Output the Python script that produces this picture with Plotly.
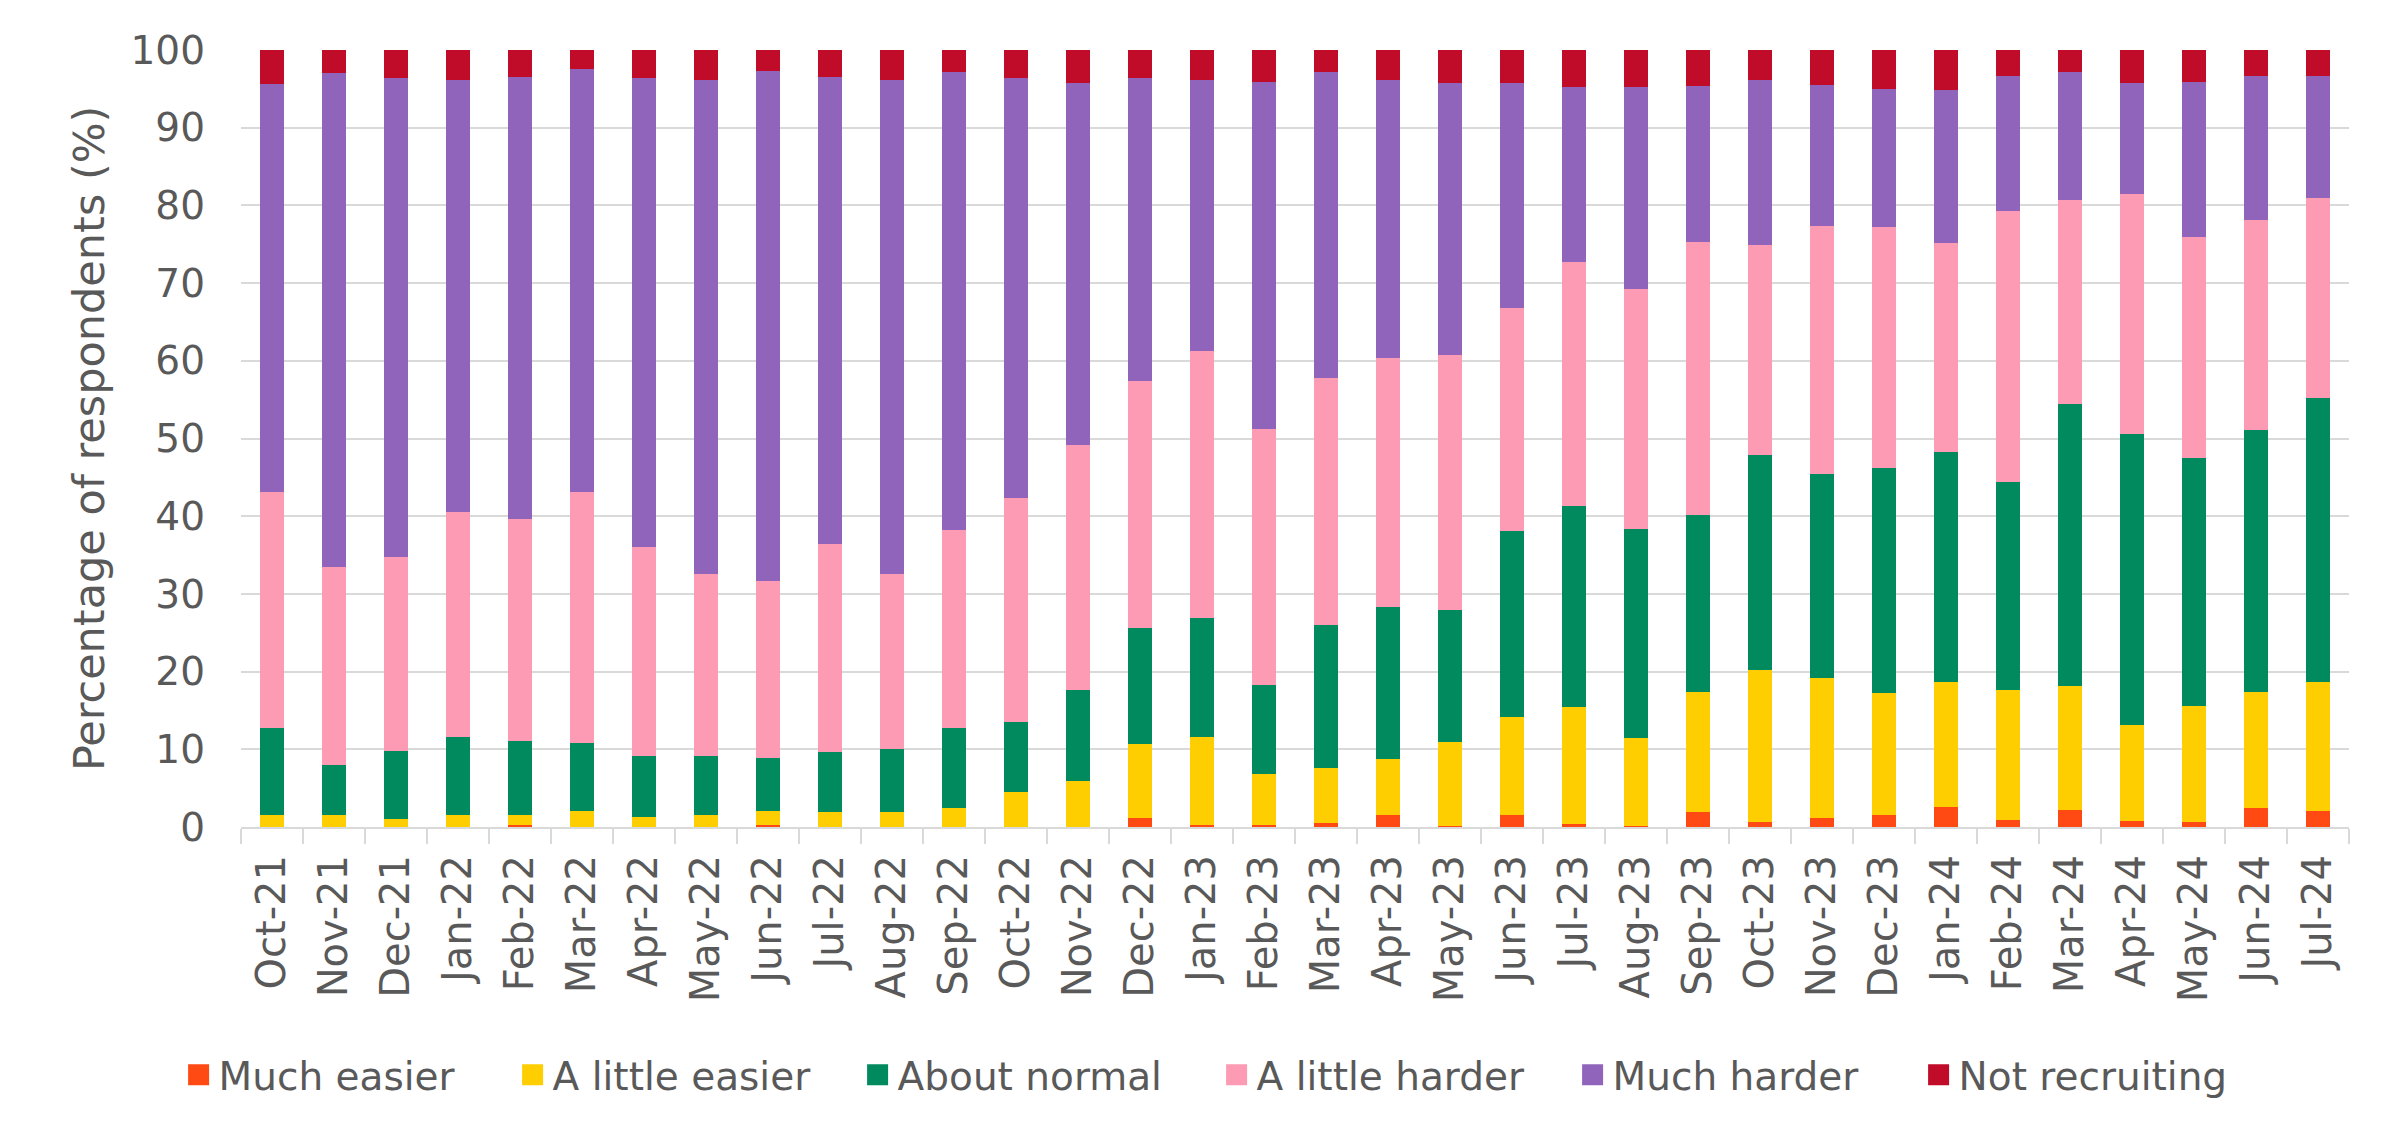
import plotly.graph_objects as go

months = ["Oct-21", "Nov-21", "Dec-21", "Jan-22", "Feb-22", "Mar-22", "Apr-22", "May-22",
          "Jun-22", "Jul-22", "Aug-22", "Sep-22", "Oct-22", "Nov-22", "Dec-22", "Jan-23",
          "Feb-23", "Mar-23", "Apr-23", "May-23", "Jun-23", "Jul-23", "Aug-23", "Sep-23",
          "Oct-23", "Nov-23", "Dec-23", "Jan-24", "Feb-24", "Mar-24", "Apr-24", "May-24",
          "Jun-24", "Jul-24"]

much_easier = [0.0, 0.0, 0.0, 0.0, 0.2, 0.0, 0.0, 0.0, 0.2, 0.0, 0.0, 0.0, 0.0, 0.0,
               1.1, 0.3, 0.3, 0.5, 1.6, 0.1, 1.5, 0.4, 0.1, 1.9, 0.7, 1.2, 1.6, 2.6,
               0.9, 2.2, 0.8, 0.7, 2.4, 2.1]
little_easier = [1.5, 1.6, 1.0, 1.5, 1.3, 2.0, 1.3, 1.5, 1.9, 1.9, 1.9, 2.5, 4.5, 5.9,
                 9.6, 11.3, 6.5, 7.1, 7.1, 10.9, 12.7, 15.1, 11.4, 15.5, 19.5, 18.0, 15.6, 16.0,
                 16.7, 15.9, 12.3, 14.9, 15.0, 16.6]
about_normal = [11.2, 6.4, 8.8, 10.1, 9.6, 8.8, 7.9, 7.7, 6.8, 7.8, 8.2, 10.3, 9.0, 11.7,
                14.9, 15.3, 11.5, 18.4, 19.6, 16.9, 23.9, 25.8, 26.8, 22.8, 27.7, 26.2, 29.0, 29.7,
                26.8, 36.3, 37.5, 31.9, 33.7, 36.5]
little_harder = [30.4, 25.4, 24.9, 28.9, 28.5, 32.3, 26.9, 23.3, 22.7, 26.7, 22.4, 25.4, 28.8, 31.5,
                 31.8, 34.3, 32.9, 31.8, 32.1, 32.8, 28.7, 31.4, 30.9, 35.1, 27.0, 32.0, 31.0, 26.8,
                 34.9, 26.3, 30.9, 28.4, 27.0, 25.7]
much_harder = [52.5, 63.6, 61.7, 55.6, 56.9, 54.5, 60.3, 63.7, 65.7, 60.1, 63.6, 59.0, 54.1, 46.6,
               39.0, 35.0, 44.7, 39.4, 35.7, 35.1, 29.0, 22.6, 26.1, 20.1, 21.2, 18.1, 17.8, 19.8,
               17.3, 16.5, 14.3, 20.0, 18.5, 15.7]
not_recruiting = [4.4, 3.0, 3.6, 3.9, 3.5, 2.4, 3.6, 3.8, 2.7, 3.5, 3.9, 2.8, 3.6, 4.3,
                  3.6, 3.8, 4.1, 2.8, 3.9, 4.2, 4.2, 4.7, 4.7, 4.6, 3.9, 4.5, 5.0, 5.1,
                  3.4, 2.8, 4.2, 4.1, 3.4, 3.4]

series_names = ["Much easier", "A little easier", "About normal", "A little harder",
                "Much harder", "Not recruiting"]
series_values = [much_easier, little_easier, about_normal, little_harder, much_harder, not_recruiting]
series_colors = ["#FF4A14", "#FFCE00", "#008A5E", "#FC9BB3", "#9164BB", "#C00C28"]
legend_widths = [289, 300, 314, 311, 301, 290]
y_title = "Percentage of respondents (%)"

FONT = "DejaVu Sans"
GREY = "#595959"
GRID = "#d9d9d9"

fig = go.Figure()
for name, vals, col in zip(series_names, series_values, series_colors):
    fig.add_trace(go.Bar(x=months, y=vals, name=name, marker=dict(color=col, line=dict(width=0)),
                         showlegend=False))
for name, col, lw in zip(series_names, series_colors, legend_widths):
    fig.add_trace(go.Scatter(x=[None], y=[None], mode="markers", name=name,
                             marker=dict(symbol="square", size=16, color=col,
                                         line=dict(width=5, color=col)),
                             legendwidth=lw, showlegend=True))

fig.update_layout(
    width=2398, height=1141,
    barmode="stack", bargap=0.605,
    plot_bgcolor="white", paper_bgcolor="white",
    margin=dict(l=241, r=49, t=50, b=314),
    font=dict(family=FONT, color=GREY, size=40),
    legend=dict(orientation="h", x=-0.0296, xanchor="left", y=-0.319, yanchor="middle",
                font=dict(family=FONT, size=39, color=GREY), traceorder="normal",
                bgcolor="rgba(0,0,0,0)"),
    showlegend=True,
    annotations=[dict(text=y_title, xref="paper", yref="paper", x=-0.0723, y=0.5,
                      xanchor="center", yanchor="middle", textangle=-90, showarrow=False,
                      font=dict(family=FONT, size=43, color=GREY))],
)
fig.update_xaxes(
    type="category", tickangle=-90, tickfont=dict(family=FONT, size=40, color=GREY),
    showline=True, linecolor=GRID, linewidth=2,
    ticks="outside", tickson="boundaries", ticklen=15, tickcolor=GRID, tickwidth=2,
    ticklabelstandoff=10,
    showgrid=False, zeroline=False,
)
fig.update_yaxes(
    range=[0, 100], dtick=10, tick0=0,
    tickfont=dict(family=FONT, size=39, color=GREY),
    showgrid=True, gridcolor=GRID, gridwidth=2, zeroline=False, showline=False,
    ticks="", ticklabelstandoff=35,
)

fig.write_html("out.html", config={"displayModeBar": False},
               post_script="document.body.style.margin='0';")
